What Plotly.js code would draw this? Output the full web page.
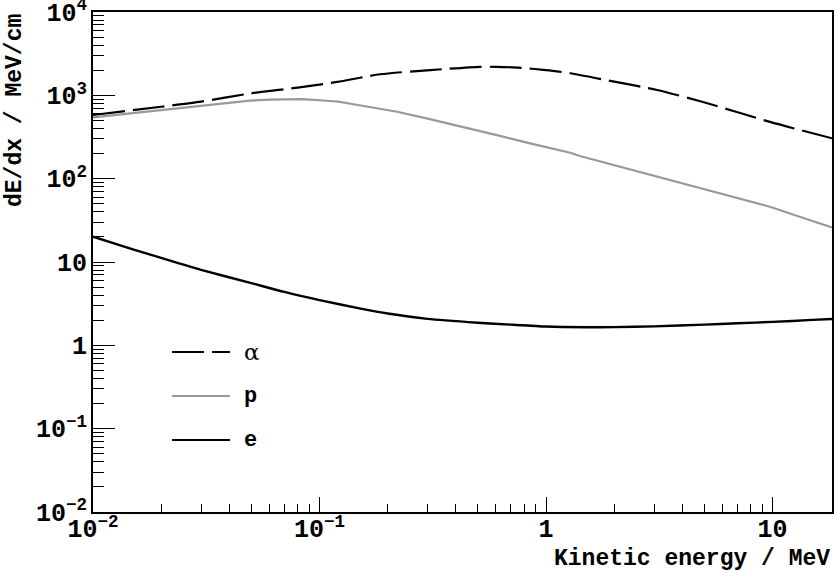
<!DOCTYPE html>
<html>
<head>
<meta charset="utf-8">
<script src="https://cdn.plot.ly/plotly-3.0.1.min.js"></script>
<style>html,body{margin:0;padding:0;background:#fff;}#chart{width:834px;height:571px;}</style>
</head>
<body>
<div id="chart"></div>
<script>
// Kinetic energy (MeV) and dE/dx (MeV/cm)
var alphaE = [0.01, 0.02, 0.03, 0.05, 0.08, 0.12, 0.185, 0.308, 0.51, 0.6, 0.75, 1.0, 1.28, 2.0, 3.09, 4.93, 9.74, 18.3];
var alphaV = [581, 730, 840, 1057, 1237, 1450, 1790, 2010, 2200, 2200, 2150, 2010, 1840, 1460, 1160, 832, 480, 305];

var protonE = [0.01, 0.0146, 0.02, 0.0268, 0.035, 0.0493, 0.06, 0.0741, 0.0845, 0.111, 0.121, 0.15, 0.22, 0.3, 0.43, 0.6, 0.85, 1.28, 1.41, 2.0, 3.52, 5.0, 7.0, 9.74, 14.0, 18.3];
var protonV = [545, 608, 660, 718, 780, 863, 890, 904, 900, 855, 839, 760, 636, 526, 421, 336, 265, 205, 187, 145, 96, 74, 58, 46, 33, 26];

var electronE = [0.01, 0.015, 0.02, 0.03, 0.05, 0.07, 0.1, 0.15, 0.2, 0.3, 0.5, 0.7, 1.0, 1.5, 2.0, 3.0, 5.0, 7.0, 10.0, 15.0, 18.3];
var electronV = [20.1, 14.2, 11.2, 8.06, 5.58, 4.37, 3.49, 2.78, 2.41, 2.08, 1.87, 1.77, 1.68, 1.65, 1.655, 1.69, 1.77, 1.84, 1.91, 2.02, 2.07];

var seriesNames = ["\u03b1", "p", "e"];
var xTitle = "Kinetic energy / MeV";
var yTitle = "dE/dx / MeV/cm";

var mono = "Liberation Mono, Courier New, monospace";

var traces = [
  {x: alphaE, y: alphaV, name: seriesNames[0], mode: "lines", type: "scatter",
   line: {color: "#000000", width: 2.2, dash: "32px,8px", shape: "spline", smoothing: 0.6}},
  {x: protonE, y: protonV, name: seriesNames[1], mode: "lines", type: "scatter",
   line: {color: "#999999", width: 2.2}},
  {x: electronE, y: electronV, name: seriesNames[2], mode: "lines", type: "scatter",
   line: {color: "#000000", width: 2.4, shape: "spline", smoothing: 0.6}}
];

var L = 93, R = 832, T = 12, B = 512;
var W = R - L, H = B - T;
function px(x){ return (x - L) / W; }
function py(y){ return 1 - (y - T) / H; }

var legendY = [352, 396, 440];
var legendColors = ["#000000", "#999999", "#000000"];
var legendDash = ["32px,8px", "solid", "solid"];
var shapes = [];
var annotations = [];
for (var i = 0; i < 3; i++) {
  shapes.push({type: "line", xref: "paper", yref: "paper",
    x0: px(172), x1: px(230), y0: py(legendY[i]), y1: py(legendY[i]),
    line: {color: legendColors[i], width: 2.2, dash: legendDash[i]}});
  annotations.push({xref: "paper", yref: "paper", x: px(242), y: py(legendY[i]),
    xanchor: "left", yanchor: "middle", showarrow: false, text: seriesNames[i],
    font: i === 0 ? {family: "DejaVu Serif, serif", size: 23, color: "#000"}
                  : {family: mono, size: 22, color: "#000", weight: "bold"}});
}
annotations.push({xref: "paper", yref: "paper", x: 1, y: py(559), xanchor: "right", yanchor: "middle",
  showarrow: false, text: xTitle, font: {family: mono, size: 23, color: "#000", weight: "bold"}});
annotations.push({xref: "paper", yref: "paper", x: px(15), y: py(111), xanchor: "center", yanchor: "middle",
  textangle: -90, showarrow: false, text: yTitle, font: {family: mono, size: 23, color: "#000", weight: "bold"}});

var axisCommon = {
  type: "log", showgrid: false, zeroline: false, showline: true, mirror: true,
  linecolor: "#000", linewidth: 2, ticks: "inside", tickwidth: 1, tickcolor: "#000",
  dtick: 1, exponentformat: "power", ticklabeloverflow: "allow",
  tickfont: {family: mono, size: 20, color: "#000", weight: "bold"}
};

var layout = {
  width: 834, height: 571,
  margin: {l: L, r: 834 - R, t: T, b: 571 - B, pad: 0},
  paper_bgcolor: "#fff", plot_bgcolor: "#fff",
  showlegend: false,
  xaxis: Object.assign({}, axisCommon, {
    range: [-2.00001, Math.log10(18.3)], ticklen: 15, ticklabelstandoff: -6,
    minor: {ticks: "inside", ticklen: 8, tickwidth: 1, tickcolor: "#000", dtick: "D1", showgrid: false}
  }),
  yaxis: Object.assign({}, axisCommon, {
    range: [-2.00001, 4.00001], ticklen: 22,
    minor: {ticks: "inside", ticklen: 11, tickwidth: 1, tickcolor: "#000", dtick: "D1", showgrid: false}
  }),
  shapes: shapes,
  annotations: annotations
};

Plotly.newPlot("chart", traces, layout, {displayModeBar: false, staticPlot: true});
</script>
</body>
</html>
